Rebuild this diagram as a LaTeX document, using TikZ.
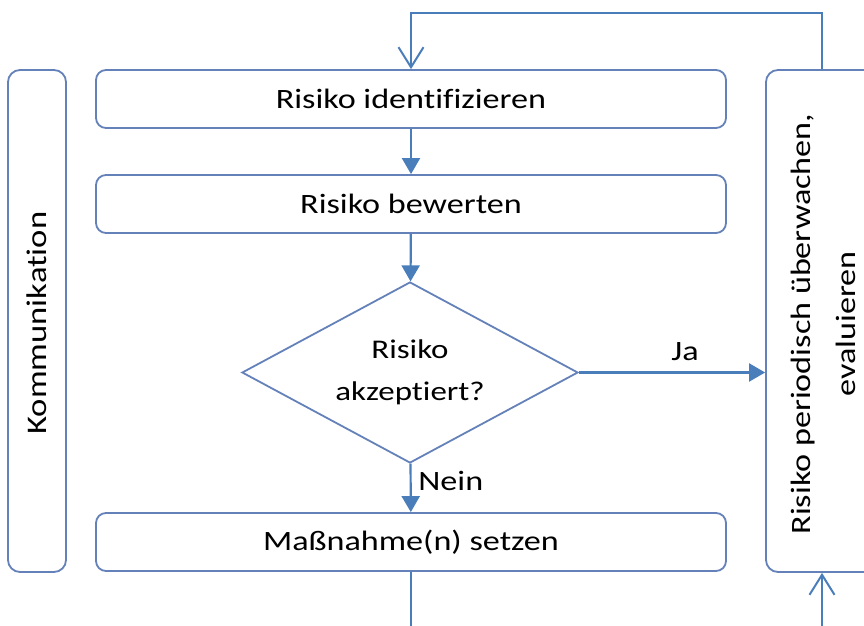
\documentclass[tikz,border=0pt]{standalone}
\usepackage{fontspec}
\setmainfont{Carlito}[FakeStretch=1.22,Ligatures=NoCommon]
\usetikzlibrary{shapes.geometric,arrows.meta}

\definecolor{lineblue}{RGB}{74,126,187}
\definecolor{boxblue}{RGB}{100,130,185}

\tikzset{
  stepbox/.style={draw=boxblue,line width=0.9pt,rounded corners=5pt,fill=white,
    minimum width=315pt,minimum height=29pt,inner sep=0pt,font=\fontsize{14}{17}\selectfont},
  sidebox/.style={draw=boxblue,line width=0.9pt,rounded corners=6pt,fill=white,inner sep=0pt},
  flow/.style={draw=lineblue,line width=1.1pt,-{Triangle[length=8pt,width=9pt]}},
  back/.style={draw=lineblue,line width=1.1pt,-{Straight Barb[length=10pt,width=12.5pt,line width=1pt]}},
  plain/.style={draw=lineblue,line width=1.1pt}
}

\begin{document}
\begin{tikzpicture}[x=0.5pt,y=-0.5pt]
\clip (0,0) rectangle (864,626);
\fill[white] (0,0) rectangle (864,626);

% linke Spalte
\node[sidebox,minimum width=29pt,minimum height=251pt] (komm) at (37,321) {};
\node[rotate=90,font=\fontsize{14.2}{17}\selectfont] (kommtext) at (37,323) {Kommunikation};

% Ablauf
\node[stepbox] (ident) at (411,99) {Risiko identifizieren};
\node[stepbox] (bew) at (411,204) {Risiko bewerten};
\node[diamond,aspect=1.86,draw=boxblue,line width=0.9pt,fill=white,inner sep=0pt,
  minimum width=168pt,minimum height=90.5pt,align=center,
  font=\fontsize{13.5}{21}\selectfont] (akz) at (410,372.5) {Risiko\\akzeptiert?};
\node[stepbox] (mass) at (411,542) {Maßnahme(n) setzen};

% rechte Spalte
\node[sidebox,minimum width=56pt,minimum height=251pt] (ueber) at (822,321) {};
\node[rotate=90,align=center,font=\fontsize{14}{22.5}\selectfont] (uebertext) at (823,324)
  {Risiko periodisch überwachen,\\evaluieren};

\draw[flow] (ident) -- (bew);
\draw[flow] (bew) -- (akz);
\draw[flow] (akz) -- node[right,pos=0.35,font=\fontsize{14}{17}\selectfont] (nein) {Nein} (mass);
\draw[flow] (akz) -- node[above,pos=0.57,yshift=2pt,font=\fontsize{14}{17}\selectfont] (ja) {Ja} (ueber.west |- akz);

% Rueckfuehrung
\draw[back] (ueber.north) -- ++(0,-56) -| (ident.north);
\coordinate (untenL) at (411,626);
\coordinate (untenR) at (822,626);
\draw[plain] (mass) -- (untenL);
\draw[back] (untenR) -- (ueber.south);
\end{tikzpicture}
\end{document}
